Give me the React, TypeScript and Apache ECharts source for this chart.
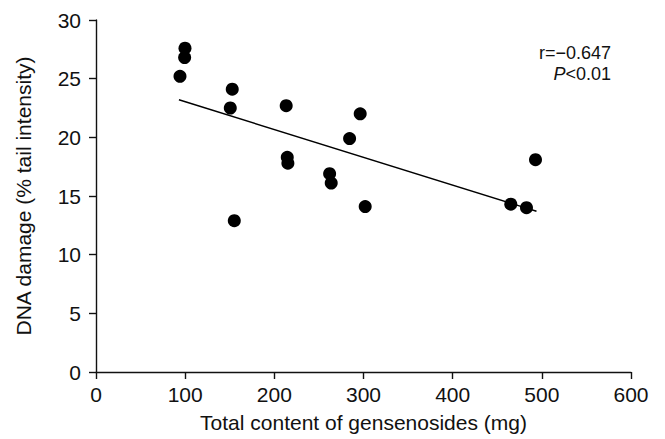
import React, { useEffect, useRef } from "react";
import * as echarts from "echarts";

const xValues = [99.8, 99.4, 94.2, 152.8, 150.6, 213.3, 296.3, 284.4, 214.5, 215.2, 262, 263.8, 301.9, 155.1, 492.9, 465.2, 482.8];
const yValues = [27.6, 26.8, 25.2, 24.1, 22.5, 22.7, 22.0, 19.9, 18.3, 17.8, 16.9, 16.1, 14.1, 12.9, 18.1, 14.3, 14.0];
const trendX = [93, 494];
const trendY = [23.2, 13.7];
const xTicks = [0, 100, 200, 300, 400, 500, 600];
const yTicks = [0, 5, 10, 15, 20, 25, 30];

const FONT = "Liberation Sans";

export default function App() {
  const ref = useRef<HTMLDivElement>(null);
  useEffect(() => {
    if (!ref.current) return;
    const chart = echarts.init(ref.current, null, { renderer: "svg" });
    const axisCommon = {
      axisLine: { show: true, lineStyle: { color: "#111", width: 1.4 } },
      axisTick: { show: true, length: 7, lineStyle: { color: "#111", width: 1.4 } },
      splitLine: { show: false },
      nameTextStyle: { color: "#111", fontSize: 21, fontFamily: FONT },
    };
    chart.setOption({
      animation: false,
      backgroundColor: "#fff",
      grid: { left: 96, right: 34, top: 20, bottom: 67 },
      xAxis: {
        type: "value",
        min: xTicks[0],
        max: xTicks[xTicks.length - 1],
        interval: 100,
        name: "Total content of gensenosides (mg)",
        nameLocation: "middle",
        nameGap: 40,
        ...axisCommon,
        axisLabel: { color: "#111", fontSize: 21, fontFamily: FONT, margin: 12 },
      },
      yAxis: {
        type: "value",
        min: yTicks[0],
        max: yTicks[yTicks.length - 1],
        interval: 5,
        name: "DNA damage (% tail intensity)",
        nameLocation: "middle",
        nameGap: 62,
        ...axisCommon,
        axisLabel: { color: "#111", fontSize: 21, fontFamily: FONT, margin: 15 },
      },
      graphic: [
        {
          type: "text",
          x: 611,
          y: 53,
          style: {
            text: "r=\u22120.647",
            fill: "#111",
            fontSize: 18,
            fontFamily: FONT,
            textAlign: "right",
            textVerticalAlign: "middle",
          },
        },
        {
          type: "text",
          x: 611,
          y: 74,
          style: {
            text: "{i|P}<0.01",
            fill: "#111",
            fontSize: 18,
            fontFamily: FONT,
            textAlign: "right",
            textVerticalAlign: "middle",
            rich: { i: { fontStyle: "italic", fontSize: 18, fontFamily: FONT, fill: "#111" } },
          },
        },
      ],
      series: [
        {
          type: "line",
          data: trendX.map((x, i) => [x, trendY[i]]),
          symbol: "none",
          lineStyle: { color: "#000", width: 1.4 },
          z: 1,
        },
        {
          type: "scatter",
          data: xValues.map((x, i) => [x, yValues[i]]),
          symbol: "circle",
          symbolSize: 13,
          itemStyle: { color: "#000", opacity: 1 },
          z: 2,
        },
      ],
    });
    return () => chart.dispose();
  }, []);
  return <div ref={ref} style={{ width: 665, height: 439, position: "absolute", left: 0, top: 0 }} />;
}
